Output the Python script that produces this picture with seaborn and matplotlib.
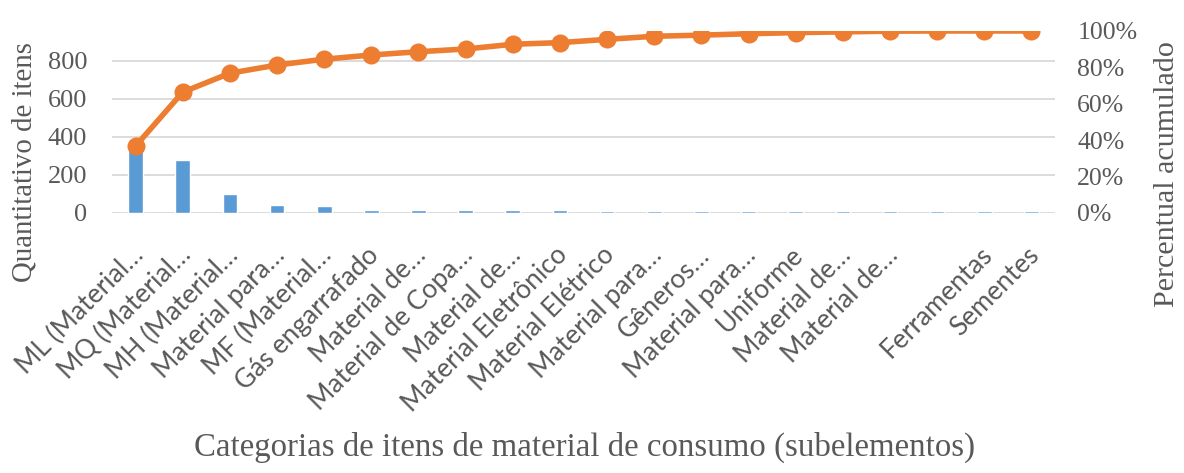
import matplotlib
matplotlib.use("Agg")
import matplotlib.pyplot as plt
import matplotlib.transforms as mtransforms
import numpy as np
import pandas as pd
import seaborn as sns
from matplotlib.ticker import PercentFormatter

# Subelementos de material de consumo, ordenados por quantidade
categorias = [
    "ML (Material…", "MQ (Material…", "MH (Material…", "Material para…",
    "MF (Material…", "Gás engarrafado", "Material de…", "Material de Copa…",
    "Material de…", "Material Eletrônico", "Material Elétrico", "Material para…",
    "Gêneros…", "Material para…", "Uniforme", "Material de…", "Material de…",
    "", "Ferramentas", "Sementes",
]
quantidade = [351, 277, 101, 42, 35, 18, 18, 18, 18, 18,
              10, 10, 10, 10, 10, 10, 10, 10, 10, 10]
percentual_acumulado = [0.368, 0.664, 0.768, 0.813, 0.845, 0.868, 0.886, 0.901,
                        0.927, 0.936, 0.954, 0.971, 0.977, 0.985, 0.991, 0.995,
                        0.999, 1.0, 1.0, 1.0]
eixo_qtd_max = 958
ticks_qtd = [0, 200, 400, 600, 800]
ticks_pct = [0, 0.2, 0.4, 0.6, 0.8, 1.0]

df = pd.DataFrame({
    "pos": np.arange(len(categorias)),
    "quantidade": quantidade,
    "acumulado": percentual_acumulado,
})

sns.set_theme(style="white")
plt.rcParams["font.family"] = ["Liberation Serif", "DejaVu Serif"]

AZUL = "#5B9BD5"
LARANJA = "#ED7D31"
CINZA_TXT = "#595959"

fig = plt.figure(figsize=(11.84, 4.73), dpi=100)
ax = fig.add_axes([0.0946, 0.5497, 0.7965, 0.3848])

sns.barplot(data=df, x="pos", y="quantidade", color=AZUL, width=0.31,
            saturation=1, ax=ax, zorder=2)
ax.set_xlim(-0.5, len(categorias) - 0.5)
ax.set_ylim(0, eixo_qtd_max)
ax.set_yticks(ticks_qtd)
ax.yaxis.grid(True, color="#D9D9D9", linewidth=1.3, zorder=0)
ax.set_axisbelow(True)
ax.set_xlabel("")
ax.set_ylabel("")
ax.set_xticks(df["pos"])
ax.set_xticklabels(categorias, rotation=45, ha="right", va="top",
                   rotation_mode="anchor", family="Lato", fontsize=19,
                   color=CINZA_TXT)
ax.tick_params(axis="x", length=0, pad=21)
ax.tick_params(axis="y", length=0, pad=18, labelsize=19, labelcolor=CINZA_TXT)
desloc = mtransforms.ScaledTranslation(-5 / 100, 0, fig.dpi_scale_trans)
for lbl in ax.get_xticklabels():
    lbl.set_transform(lbl.get_transform() + desloc)
for s in ax.spines.values():
    s.set_visible(False)

ax2 = ax.twinx()
sns.lineplot(data=df, x="pos", y="acumulado", color=LARANJA, linewidth=4,
             marker="o", markersize=13, markeredgewidth=0, ax=ax2)
ax2.set_ylim(0, 1)
ax2.set_yticks(ticks_pct)
ax2.yaxis.set_major_formatter(PercentFormatter(1, decimals=0))
ax2.tick_params(axis="y", length=0, pad=16, labelsize=18.5, labelcolor=CINZA_TXT)
ax2.set_ylabel("")
ax2.set_xlabel("")
ax2.grid(False)
for s in ax2.spines.values():
    s.set_visible(False)

fig.text(0.0211, 0.6564, "Quantitativo de itens", rotation=90, ha="center",
         va="center", fontsize=20.8, color=CINZA_TXT)
fig.text(0.9856, 0.633, "Percentual acumulado", rotation=90, ha="center",
         va="center", fontsize=21.6, color=CINZA_TXT)
fig.text(0.494, 0.055, "Categorias de itens de material de consumo (subelementos)",
         ha="center", va="center", fontsize=23.7, color=CINZA_TXT)

fig.savefig("out.png", dpi=100, facecolor="white")
